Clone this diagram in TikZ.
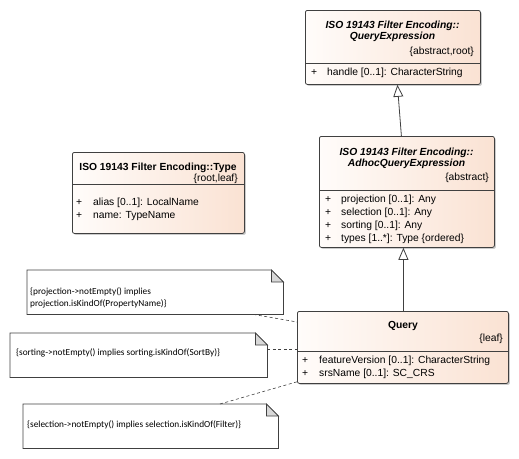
\documentclass[tikz,border=0pt]{standalone}
\usepackage{fontspec}
\setmainfont{Liberation Sans}
\newfontfamily\notefont{Carlito}
\usepackage{tikz}
\usetikzlibrary{arrows.meta,shadows}
\usepackage{xcolor}

\definecolor{boxline}{HTML}{404040}
\definecolor{boxleft}{HTML}{FFFCFA}
\definecolor{boxright}{HTML}{FAE2D3}
\definecolor{foldgray}{HTML}{D8D8D8}

\tikzset{
    umlclass/.style={draw=boxline, rounded corners=2pt, left color=boxleft, right color=boxright,
        anchor=north west, inner sep=0pt, line width=0.8pt,
        drop shadow={shadow xshift=1.5pt, shadow yshift=-1.5pt, fill=black!40, opacity=.5}},
    umlnote/.style={anchor=north west, inner sep=0pt, draw=none},
    title/.style={font=\fontsize{10.3}{12.5}\selectfont\bfseries\itshape},
    attr/.style={anchor=west, inner sep=0pt, font=\fontsize{10.3}{12}\selectfont},
    notetext/.style={anchor=west, inner sep=0pt, align=left, font=\notefont\fontsize{9.3}{12}\selectfont},
    dependency/.style={dashed, dash pattern=on 3pt off 2.5pt, draw=boxline, line width=0.6pt},
    inherits/.style={draw=boxline, line width=0.8pt, -{Triangle[open, fill=white, length=12pt, width=10pt]}}
}

\newcommand{\notebox}[1]{%
    \draw[boxline, line width=0.8pt] (#1.north west) -- ([xshift=-12pt]#1.north east)
        -- ([yshift=-12pt]#1.north east) -- (#1.south east) -- (#1.south west) -- cycle;
    \filldraw[draw=boxline, fill=foldgray, line width=0.8pt] ([xshift=-12pt]#1.north east)
        -- ([xshift=-12pt,yshift=-12pt]#1.north east) -- ([yshift=-12pt]#1.north east) -- cycle;
}

\begin{document}
\begin{tikzpicture}[x=1pt, y=-1pt]
    \useasboundingbox (0,0) rectangle (519,458);

    % QueryExpression
    \node[umlclass, minimum width=175pt, minimum height=74pt] (qe) at (305,10) {};
    \draw[boxline, line width=0.8pt] (305,63) -- (480,63);
    \node[title] (qet) at (392.5,31.5) {\begin{tabular}{@{}c@{}}ISO 19143 Filter Encoding::\\[-1.5pt]QueryExpression\end{tabular}};
    \node[attr, anchor=east] (qes) at (474,52) {\{abstract,root\}};
    \node[attr] (qea) at (311,73) {+};
    \node[attr] (qeb) at (327,73) {handle [0..1]: CharacterString};

    % AdhocQueryExpression
    \node[umlclass, minimum width=175pt, minimum height=111pt] (qa) at (319,136) {};
    \draw[boxline, line width=0.8pt] (319,190) -- (494,190);
    \node[title] (qat) at (406.5,158) {\begin{tabular}{@{}c@{}}ISO 19143 Filter Encoding::\\[-1.5pt]AdhocQueryExpression\end{tabular}};
    \node[attr, anchor=east] (qas) at (489,178) {\{abstract\}};
    \foreach \y/\txt [count=\i] in {200/{projection [0..1]: Any}, 213/{selection [0..1]: Any},
        226/{sorting [0..1]: Any}, 239/{types [1..*]: Type \{ordered\}}} {
        \node[attr] (qap\i) at (325,\y) {+};
        \node[attr] (qaa\i) at (341,\y) {\txt};
    }

    % Type
    \node[umlclass, minimum width=172pt, minimum height=81pt] (ty) at (72,152) {};
    \draw[boxline, line width=0.8pt] (72,184) -- (244,184);
    \node[title, font=\fontsize{10.3}{12}\selectfont\bfseries] (tyt) at (158,168) {ISO 19143 Filter Encoding::Type};
    \node[attr, anchor=east] (tys) at (238,179) {\{root,leaf\}};
    \node[attr] (typ1) at (76,203) {+};
    \node[attr] (tya1) at (93,203) {alias [0..1]: LocalName};
    \node[attr] (typ2) at (76,216) {+};
    \node[attr] (tya2) at (93,216) {name: TypeName};

    % Query
    \node[umlclass, minimum width=211pt, minimum height=72pt] (q) at (297,311) {};
    \draw[boxline, line width=0.8pt] (297,351) -- (508,351);
    \node[title, font=\fontsize{10.3}{12}\selectfont\bfseries] (qt) at (403,326) {Query};
    \node[attr, anchor=east] (qs) at (503,339) {\{leaf\}};
    \node[attr] (qp1) at (302,361) {+};
    \node[attr] (qa1) at (319,361) {featureVersion [0..1]: CharacterString};
    \node[attr] (qp2) at (302,374) {+};
    \node[attr] (qa2) at (319,374) {srsName [0..1]: SC\_CRS};

    % notes
    \node[umlnote, minimum width=256pt, minimum height=44pt] (n1) at (27,270) {};
    \notebox{n1}
    \node[notetext] (n1t) at (30,297.5) {\{projection->notEmpty() implies\\projection.isKindOf(PropertyName)\}};

    \node[umlnote, minimum width=257pt, minimum height=44pt] (n2) at (10,333) {};
    \notebox{n2}
    \node[notetext] (n2t) at (16,353) {\{sorting->notEmpty() implies sorting.isKindOf(SortBy)\}};

    \node[umlnote, minimum width=255pt, minimum height=44pt] (n3) at (23,404) {};
    \notebox{n3}
    \node[notetext] (n3t) at (27,425) {\{selection->notEmpty() implies selection.isKindOf(Filter)\}};

    % generalizations
    \draw[inherits] ([xshift=-5.5pt]qa.north) -- ([xshift=4.5pt]qe.south);
    \draw[inherits] ([xshift=0.5pt]q.north) -- ([xshift=0.5pt]q.north |- qa.south);

    % constraint links
    \draw[dependency] ([xshift=-30pt]n1.south east) -- ([yshift=-11pt]q.north west);
    \draw[dependency] ([yshift=-16pt]n2.north east) -- ([yshift=-38pt]q.north west);
    \draw[dependency] ([xshift=197pt]n3.north west) -- ([yshift=2pt]q.south west);
\end{tikzpicture}
\end{document}
